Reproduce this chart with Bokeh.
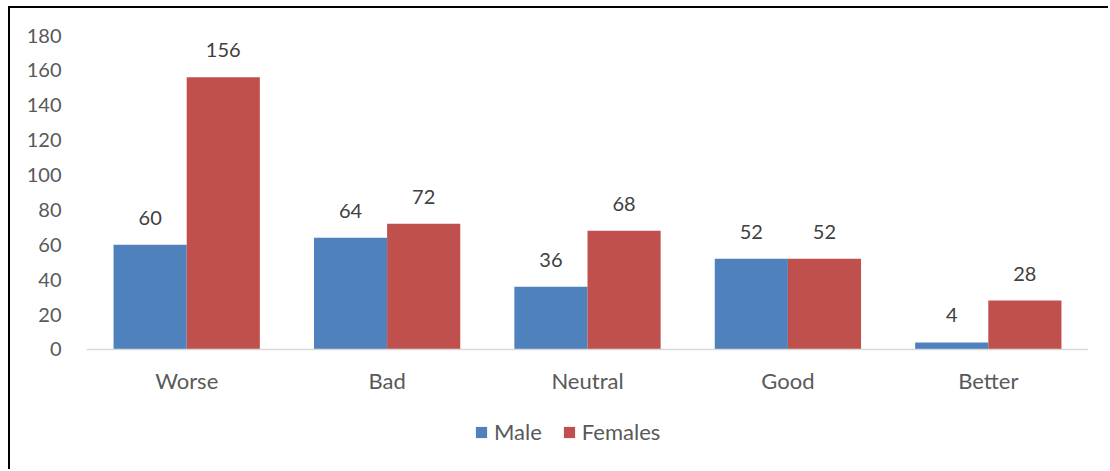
from bokeh.plotting import figure
from bokeh.models import ColumnDataSource, Legend, LegendItem, FactorRange, Range1d, Span
from bokeh.transform import dodge
from bokeh.core.properties import value
from bokeh.embed import file_html
from bokeh.resources import INLINE

# Responses by sex
categories = ["Worse", "Bad", "Neutral", "Good", "Better"]
male = [60, 64, 36, 52, 4]
females = [156, 72, 68, 52, 28]
y_ticks = [0, 20, 40, 60, 80, 100, 120, 140, 160, 180]

FONT = "Lato"
TEXT_COLOR = "#595959"
BLUE = "#4F81BD"
RED = "#C0504D"

source = ColumnDataSource(data=dict(
    cat=categories,
    male=male,
    females=females,
    male_lbl=[str(v) for v in male],
    females_lbl=[str(v) for v in females],
))

# The plotting area reaches down to the bottom so that the category
# names and the legend can sit below the zero line.
p = figure(
    width=1100, height=463,
    x_range=FactorRange(factors=categories),
    y_range=Range1d(-70, 180),
    x_axis_location=None,
    output_backend="svg", toolbar_location=None,
    min_border_left=76, min_border_right=22,
    min_border_top=27, min_border_bottom=0,
)
p.styles = {
    "margin-left": "8px", "margin-top": "6px",
    "border-left": "2px solid black", "border-top": "2px solid black",
}

bw = 0.365
rm = p.vbar(x=dodge("cat", -bw / 2, range=p.x_range), top="male", width=bw,
            source=source, fill_color=BLUE, line_color=None)
rf = p.vbar(x=dodge("cat", bw / 2, range=p.x_range), top="females", width=bw,
            source=source, fill_color=RED, line_color=None)

# Zero line
p.add_layout(Span(location=0, dimension="width", line_color="#d9d9d9",
                  line_width=1.5))

# Value labels above each bar
for col, off in (("male", -bw / 2), ("females", bw / 2)):
    p.text(x=dodge("cat", off, range=p.x_range), y=col, text=col + "_lbl",
           source=source, text_align="center", text_baseline="alphabetic",
           y_offset=-27, text_font=value(FONT), text_font_size="20px",
           text_color="#404040")

# Category names under the zero line
p.text(x="cat", y=0, text="cat", source=source, text_align="center",
       text_baseline="middle", y_offset=31, text_font=value(FONT),
       text_font_size="22px", text_color=TEXT_COLOR)

p.grid.visible = False
p.outline_line_color = None
p.background_fill_color = "white"
p.border_fill_color = "white"

p.yaxis.ticker = y_ticks
p.yaxis.axis_line_color = None
p.yaxis.major_tick_line_color = None
p.yaxis.minor_tick_line_color = None
p.yaxis.major_label_standoff = 19
p.yaxis.major_label_text_font_size = "20px"
p.yaxis.major_label_text_font = FONT
p.yaxis.major_label_text_color = TEXT_COLOR

legend = Legend(
    items=[LegendItem(label="Male", renderers=[rm]),
           LegendItem(label="Females", renderers=[rf])],
    orientation="horizontal",
    location=(388, 26),
    glyph_width=14, glyph_height=14,
    label_standoff=6, spacing=20, padding=0, margin=0,
    border_line_color=None, background_fill_alpha=0,
    label_text_font=FONT, label_text_font_size="22px",
    label_text_color=TEXT_COLOR,
)
p.add_layout(legend, "center")

open("out.html", "w").write(file_html(p, INLINE))
